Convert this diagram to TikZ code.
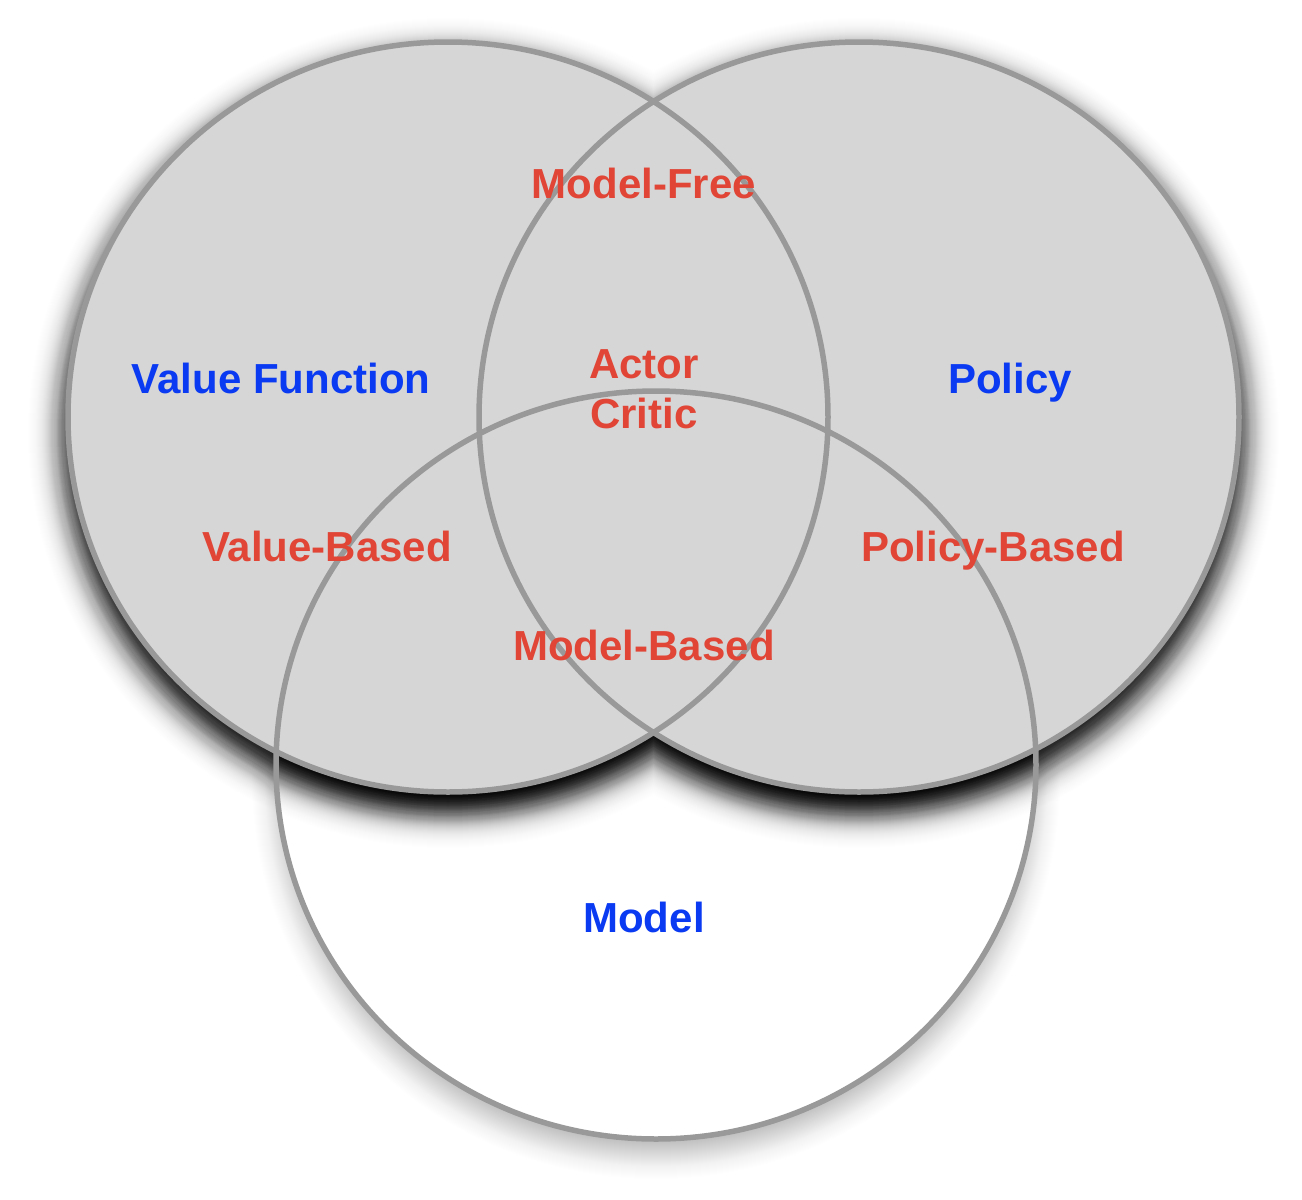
\documentclass[tikz,border=0pt]{standalone}
\usepackage{fontspec}
\setmainfont{Liberation Sans}
\definecolor{ringgray}{HTML}{999999}
\definecolor{setgray}{HTML}{D6D6D6}
\definecolor{setblue}{HTML}{0A3AF2}
\definecolor{setred}{HTML}{E04535}
\begin{document}
\begin{tikzpicture}[x=1pt,y=-1pt,
  ring/.style={draw=ringgray, line width=5.5pt},
  setname/.style={font=\fontsize{42}{50}\selectfont\bfseries, text=setblue, anchor=base, inner sep=0pt},
  zonename/.style={font=\fontsize{42}{50}\selectfont\bfseries, text=setred, anchor=base, inner sep=0pt},
  er/.style={x radius=380pt, y radius=375pt},
  mr/.style={x radius=380pt, y radius=374pt}]
\useasboundingbox (0,0) rectangle (1302,1200);
\coordinate (cV) at (448,417);
\coordinate (cP) at (859,417);
\coordinate (cM) at (656,765);
% soft shadow of the model circle (layered fills)
\foreach \d in {-40,...,40} {
  \pgfmathsetmacro{\op}{0.32/(1+exp(\d/9)) - 0.32/(1+exp((\d+1)/9))}
  \fill[black, opacity=\op] ([yshift=-16pt]cM) ellipse [x radius=380pt+\d pt, y radius=374pt+\d pt];
}
\fill[white] (cM) ellipse [mr];
% dark shadow under the two upper circles (layered fills)
\foreach \d in {-60,...,40} {
  \pgfmathsetmacro{\op}{1-exp(-(3.5/(1+exp((\d+7.5)/10)) - 3.5/(1+exp((\d+8.5)/10))))}
  \fill[black, opacity=\op] ([yshift=-16pt]cV) ellipse [x radius=380pt+\d pt, y radius=375pt+\d pt]
                            ([yshift=-16pt]cP) ellipse [x radius=380pt+\d pt, y radius=375pt+\d pt];
}
% grey fills
\fill[setgray] (cV) ellipse [er] (cP) ellipse [er];
% outlines
\draw[ring] (cV) ellipse [er];
\draw[ring] (cP) ellipse [er];
\draw[ring] (cM) ellipse [mr];
% labels
\node[setname] (vf) at (281,393) {Value Function};
\node[setname] (po) at (1010,393) {Policy};
\node[setname] (mo) at (644,932) {Model};
\node[zonename] (mf) at (644,198) {Model-Free};
\node[zonename] (ac) at (644,378) {Actor};
\node[zonename] (cr) at (644,428) {Critic};
\node[zonename] (vb) at (327,561) {Value-Based};
\node[zonename] (pb) at (993,561) {Policy-Based};
\node[zonename] (mb) at (644,660) {Model-Based};
\end{tikzpicture}
\end{document}
